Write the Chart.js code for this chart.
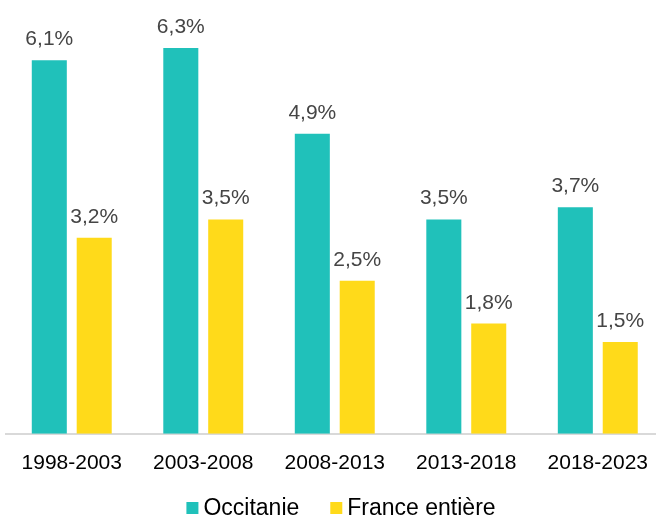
<!DOCTYPE html>
<html>
<head>
<meta charset="utf-8">
<script src="https://cdn.jsdelivr.net/npm/chart.js@4"></script>
<style>
html,body{margin:0;padding:0;background:#fff;overflow:hidden;}
#wrap{width:656px;height:521px;position:relative;overflow:hidden;}
</style>
</head>
<body>
<div id="wrap"><canvas id="c" width="665" height="521"></canvas></div>
<script>
const categories = ["1998-2003","2003-2008","2008-2013","2013-2018","2018-2023"];
const occitanie = [6.1, 6.3, 4.9, 3.5, 3.7];
const franceEntiere = [3.2, 3.5, 2.5, 1.8, 1.5];
const seriesNames = ["Occitanie","France entière"];
const seriesColors = ["#20C1BA","#FFDA1A"];

const FONT = "'Liberation Sans', Arial, sans-serif";

const labelPlugin = {
  id: 'valueLabels',
  afterDatasetsDraw(chart) {
    const ctx = chart.ctx;
    ctx.save();
    ctx.font = "21px " + FONT;
    ctx.fillStyle = "#454545";
    ctx.textAlign = "center";
    ctx.textBaseline = "alphabetic";
    chart.data.datasets.forEach((ds, i) => {
      const meta = chart.getDatasetMeta(i);
      meta.data.forEach((el, j) => {
        const txt = ds.data[j].toFixed(1).replace('.', ',') + '%';
        ctx.fillText(txt, el.x, el.y - 15);
      });
    });
    ctx.restore();
  }
};

const legendPlugin = {
  id: 'customLegend',
  afterDraw(chart) {
    const ctx = chart.ctx;
    ctx.save();
    ctx.font = "23px " + FONT;
    ctx.textBaseline = "middle";
    ctx.textAlign = "left";
    const box = 12, gap = 5, between = 31;
    const items = chart.data.datasets.map(ds => ({ label: ds.label, color: ds.backgroundColor, w: ctx.measureText(ds.label).width }));
    let total = 0;
    items.forEach((it, i) => { total += box + gap + it.w + (i < items.length - 1 ? between : 0); });
    let x = 341 - total / 2;
    const cy = 508;
    items.forEach(it => {
      ctx.fillStyle = it.color;
      ctx.fillRect(x, cy - box / 2, box, box);
      x += box + gap;
      ctx.fillStyle = "#000";
      ctx.fillText(it.label, x, cy + 1);
      x += it.w + between;
    });
    ctx.restore();
  }
};

new Chart(document.getElementById('c'), {
  type: 'bar',
  data: {
    labels: categories,
    datasets: [
      { label: seriesNames[0], data: occitanie, backgroundColor: seriesColors[0], barPercentage: 0.78, categoryPercentage: 0.683 },
      { label: seriesNames[1], data: franceEntiere, backgroundColor: seriesColors[1], barPercentage: 0.78, categoryPercentage: 0.683 }
    ]
  },
  options: {
    responsive: false,
    animation: false,
    devicePixelRatio: 1,
    layout: { padding: { left: 6, right: 0, top: 5, bottom: 28 } },
    plugins: {
      tooltip: { enabled: false },
      legend: { display: false }
    },
    scales: {
      x: {
        grid: { display: false, drawTicks: false },
        border: { display: true, color: '#D9D9D9', width: 2 },
        ticks: { color: '#000', font: { family: FONT, size: 21 }, padding: 17, maxRotation: 0, autoSkip: false }
      },
      y: {
        display: false,
        min: 0, max: 7
      }
    }
  },
  plugins: [labelPlugin, legendPlugin]
});
</script>
</body>
</html>
